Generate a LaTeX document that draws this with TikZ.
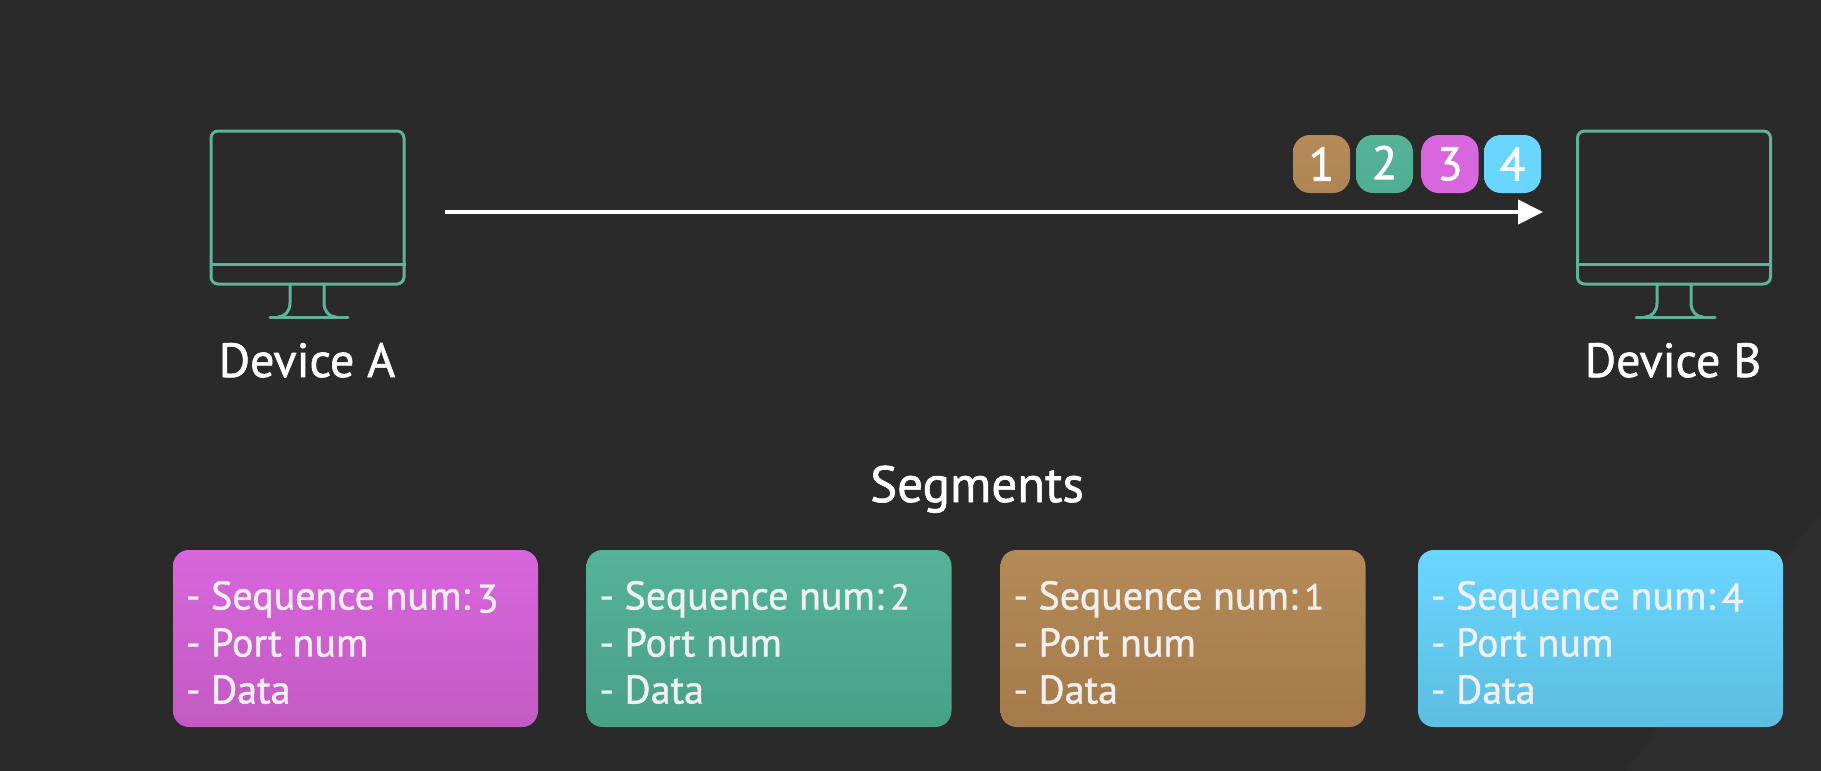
\documentclass[tikz,border=0pt]{standalone}
\usepackage{fontspec}
\setmainfont[FakeBold=1.2]{PT Sans}
\usetikzlibrary{arrows.meta}
\definecolor{bgc}{HTML}{2A2A2A}
\definecolor{wedge}{HTML}{2D2D2D}
\definecolor{mon}{HTML}{5FB39B}
\definecolor{brownT}{HTML}{B58A58}\definecolor{brownB}{HTML}{A57A4B}\definecolor{brownM}{HTML}{B08555}
\definecolor{greenT}{HTML}{55B39A}\definecolor{greenB}{HTML}{48A087}\definecolor{greenM}{HTML}{50AD94}
\definecolor{purpT}{HTML}{D866DC}\definecolor{purpB}{HTML}{C35AC3}
\definecolor{blueT}{HTML}{6AD6FF}\definecolor{blueB}{HTML}{5CBDE0}
\definecolor{txt}{HTML}{EFEFEF}
\tikzset{
  x=1pt,y=-1pt,
  screen/.style={draw=mon,line width=3pt,rounded corners=7pt,minimum width=193pt,minimum height=153pt,inner sep=0pt},
  monline/.style={draw=mon,line width=3pt,line cap=round},
  monbar/.style={draw=mon,line width=3pt},
  devlabel/.style={text=white,font=\fontsize{48}{54}\selectfont,inner sep=0pt,anchor=base},
  seglabel/.style={devlabel,font=\fontsize{51}{54}\selectfont},
  chip/.style={rounded corners=17pt,minimum width=57pt,minimum height=58pt,inner sep=0pt,text=white,font=\fontsize{47}{50}\selectfont},
  segbox/.style={rounded corners=16pt,minimum width=365pt,minimum height=177pt,inner sep=0pt},
  segtext/.style={text=txt,font=\fontsize{40}{47}\selectfont,align=left,inner sep=0pt,anchor=west},
  flow/.style={draw=white,line width=4pt,-{Triangle[length=25pt,width=24pt]}},
}
\begin{document}
\begin{tikzpicture}
\useasboundingbox (0,0) rectangle (1821,771);
\fill[bgc] (0,0) rectangle (1821,771);
\fill[wedge] (1821,511) -- (1626,771) -- (1821,771) -- cycle;

% Device A
\node[screen] (monA) at (307.5,207.5) {};
\draw[monbar] (monA.west |- 0,264) -- (monA.east |- 0,264);
\coordinate (aN1) at (290,284); \coordinate (aN2) at (324,284);
\coordinate (aB1) at (270,317); \coordinate (aB2) at (348,317);
\draw[monline] (aB1) -- (aB2);
\draw[monline] (aN1) -- (290,303) .. controls (290,311) and (285,317) .. (278,317);
\draw[monline] (aN2) -- (324,303) .. controls (324,311) and (329,317) .. (336,317);
\node[devlabel] (labA) at (307,377) {Device A};

% Device B
\node[screen] (monB) at (1674,207.5) {};
\draw[monbar] (monB.west |- 0,264) -- (monB.east |- 0,264);
\coordinate (bN1) at (1657,284); \coordinate (bN2) at (1691,284);
\coordinate (bB1) at (1636,317); \coordinate (bB2) at (1715,317);
\draw[monline] (bB1) -- (bB2);
\draw[monline] (bN1) -- (1657,303) .. controls (1657,311) and (1652,317) .. (1645,317);
\draw[monline] (bN2) -- (1691,303) .. controls (1691,311) and (1696,317) .. (1703,317);
\node[devlabel] (labB) at (1673,377) {Device B};

% Arrow
\coordinate (from) at (445,212);
\coordinate (to) at (1543,212);
\draw[flow] (from) -- (to);

% Chips
\node[chip,top color=brownT,bottom color=brownM] (c1) at (1321.5,164) {1};
\node[chip,top color=greenT,bottom color=greenM] (c2) at (1384.5,164) {\raisebox{3pt}{2}};
\node[chip,top color=purpT,bottom color=purpT] (c3) at (1450,164) {\raisebox{-1pt}{3}};
\node[chip,top color=blueT,bottom color=blueT] (c4) at (1512.5,164) {4};

% Segments
\node[seglabel] (seg) at (977,502) {Segments};

\node[segbox,top color=purpT,bottom color=purpB] (s3) at (355.5,638.5) {};
\node[segbox,top color=greenT,bottom color=greenB] (s2) at (769,638.5) {};
\node[segbox,top color=brownT,bottom color=brownB] (s1) at (1183,638.5) {};
\node[segbox,top color=blueT,bottom color=blueB] (s4) at (1600.5,638.5) {};

\node[segtext] (t3) at ([xshift=13pt,yshift=-4pt]s3.west) {- Sequence num:\,\raisebox{-3pt}{3}\\- Port num\\- Data};
\node[segtext] (t2) at ([xshift=13pt,yshift=-4pt]s2.west) {- Sequence num:\,{\fontsize{36}{47}\selectfont 2}\\- Port num\\- Data};
\node[segtext] (t1) at ([xshift=13pt,yshift=-4pt]s1.west) {- Sequence num:\,{\fontsize{36}{47}\selectfont 1}\\- Port num\\- Data};
\node[segtext] (t4) at ([xshift=13pt,yshift=-4pt]s4.west) {- Sequence num:\,\raisebox{-2pt}{4}\\- Port num\\- Data};
\end{tikzpicture}
\end{document}
